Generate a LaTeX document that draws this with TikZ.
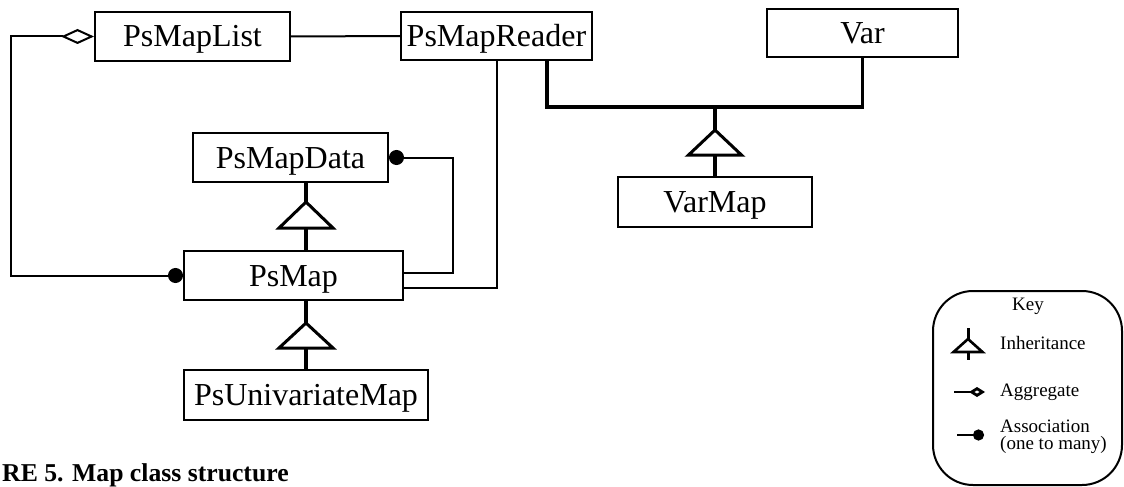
\documentclass[tikz,border=0pt]{standalone}
\usepackage{fontspec}
\setmainfont{Liberation Serif}
\usetikzlibrary{arrows.meta}
\begin{document}
\begin{tikzpicture}[x=1pt,y=-1pt,
  cls/.style={draw,line width=2pt,inner sep=0pt,font=\fontsize{32}{36}\selectfont,text height=21pt,text depth=0pt},
  assoc/.style={line width=2pt},
  inh/.style={line width=3.2pt},
  tri/.style={line width=3pt,fill=white,line join=miter},
  dotend/.style={-{Circle[length=15pt]}},
  keytxt/.style={anchor=west,inner sep=0pt,font=\fontsize{19}{21}\selectfont}]
\useasboundingbox (0,0) rectangle (1124,487);
% classes
\node[cls,minimum width=195pt,minimum height=49pt] (list) at (192.5,36.5) {PsMapList};
\node[cls,minimum width=191pt,minimum height=48pt] (reader) at (496.5,36) {PsMapReader};
\node[cls,minimum width=191pt,minimum height=48pt] (var) at (862.5,33) {Var};
\node[cls,minimum width=194pt,minimum height=50pt] (varmap) at (715,202) {VarMap};
\node[cls,minimum width=195pt,minimum height=49pt] (data) at (290.5,157.5) {PsMapData};
\node[cls,minimum width=219pt,minimum height=49pt] (psmap) at (293.5,275.5) {PsMap};
\node[cls,minimum width=244pt,minimum height=50pt] (uni) at (306,395) {PsUnivariateMap};
% associations
\draw[assoc] (list.east) -- (reader.west);
\draw[assoc,{Circle[length=15pt]}-{Diamond[open,length=33pt,width=15pt]}]
  (psmap.west) -| ([xshift=-83pt]list.west) -- (list.west);
\draw[assoc,dotend] ([yshift=2.5pt]psmap.east) -| ([xshift=64pt]data.east) -- (data.east);
\draw[assoc] ([yshift=-12.5pt]psmap.east) -| (reader.south);
% inheritance PsMapData -> PsMap -> PsUnivariateMap
\draw[inh] (data.south -| uni.north) -- (psmap.north -| uni.north);
\coordinate (t1) at (306,215);
\draw[tri] (t1) ++(0,-13) -- ++(27,26) -- ++(-54,0) -- cycle;
\draw[inh] (psmap.south -| uni.north) -- (uni.north);
\coordinate (t2) at (306,335.5);
\draw[tri] (t2) ++(0,-12.5) -- ++(27,25) -- ++(-54,0) -- cycle;
% inheritance PsMapReader, Var -> VarMap
\coordinate (j) at (715,107);
\draw[inh,line join=miter] ([xshift=50.5pt]reader.south) |- (j) -| (var.south);
\draw[inh] (j) -- (varmap.north);
\coordinate (t3) at (715,142.5);
\draw[tri] (t3) ++(0,-12.5) -- ++(26.5,25) -- ++(-53,0) -- cycle;
% key
\draw[line width=2pt,rounded corners=40pt] (933,291) rectangle (1122,485);
\node[keytxt,anchor=center] (key) at (1028,306) {Key};
\draw[line width=3pt] (968,328) -- (968,360);
\draw[line width=2.6pt,fill=white,line join=miter] (968,339) -- (982.5,352) -- (953.5,352) -- cycle;
\node[keytxt] (kinh) at (1000,343) {Inheritance};
\draw[line width=2.8pt,-{Diamond[open,length=16pt,width=10pt]}] (954,392) -- (985,392);
\node[keytxt] (kagg) at (1000,392) {Aggregate};
\draw[line width=2.8pt,-{Circle[length=11pt]}] (957,435) -- (984,435);
\node[keytxt,align=left,font=\fontsize{19}{17}\selectfont] (kas) at (1000,437) {Association\\(one to many)};
% caption
\node[anchor=base west,inner sep=0pt,font=\bfseries\fontsize{25.7}{28}\selectfont] (cap) at (2,481) {RE 5. Map class structure};
\end{tikzpicture}
\end{document}
